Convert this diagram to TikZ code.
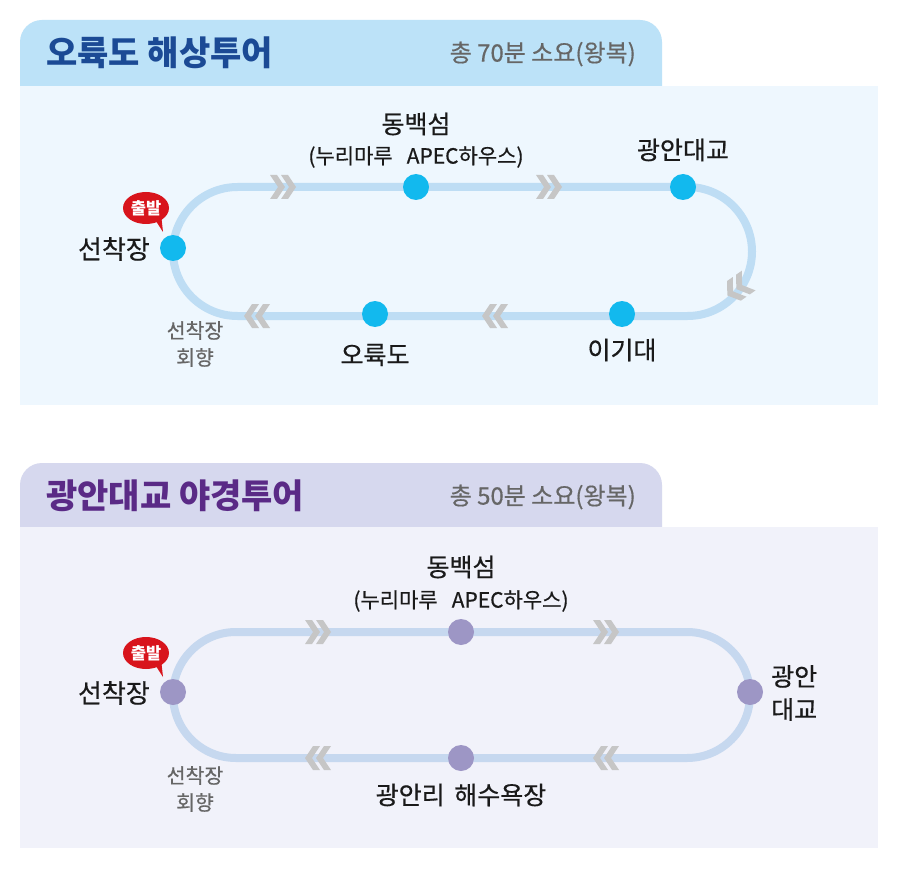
\documentclass[tikz,border=0pt]{standalone}
\usepackage{fontspec}
\newfontfamily\kr{Noto Sans CJK KR}
\newfontfamily\krm[FakeBold=0.5]{Noto Sans CJK KR}
\usetikzlibrary{shapes.geometric}
\definecolor{tabA}{HTML}{BCE2F8}
\definecolor{bodyA}{HTML}{EEF7FE}
\definecolor{titleA}{HTML}{1B4A95}
\definecolor{tabB}{HTML}{D6D8EE}
\definecolor{bodyB}{HTML}{F1F2FA}
\definecolor{titleB}{HTML}{5A2A86}
\definecolor{grayT}{HTML}{666666}
\definecolor{trackA}{HTML}{BEDDF4}
\definecolor{trackB}{HTML}{C6D8EF}
\definecolor{stopA}{HTML}{12B9EE}
\definecolor{stopB}{HTML}{9D96C5}
\definecolor{chev}{HTML}{C6C6C6}
\definecolor{bubble}{HTML}{D8141C}
\definecolor{txt}{HTML}{1A1A1A}
\tikzset{
  stopdot/.style={circle, minimum size=26pt, inner sep=0pt},
  title/.style={font=\kr\bfseries\fontsize{34}{36}\selectfont, inner sep=0pt, anchor=west},
  dur/.style={font=\krm\fontsize{24}{26}\selectfont, text=grayT, inner sep=0pt, anchor=east},
  lbl/.style={font=\krm\fontsize{25}{29}\selectfont, text=txt, inner sep=0pt},
  sublbl/.style={font=\krm\fontsize{21}{23}\selectfont, text=txt, inner sep=0pt},
  ret/.style={font=\krm\fontsize{20.5}{27}\selectfont, text=grayT, inner sep=0pt, align=center},
  track/.style={line width=8pt},
  chevron/.pic={
    \fill[chev] (-13,-12) -- (-6,-12) -- (2,0) -- (-6,12) -- (-13,12) -- (-5,0) -- cycle;
    \fill[chev] (-2,-12) -- (5,-12) -- (13,0) -- (5,12) -- (-2,12) -- (6,0) -- cycle;
  },
  startbubble/.pic={
    \fill[bubble] (8,10) -- (17,24) -- (15,6) -- cycle;
    \fill[bubble] (0,0) ellipse [x radius=23, y radius=16];
    \node[font=\kr\bfseries\fontsize{16.5}{18}\selectfont, text=white, inner sep=0pt] at (0,0) {출발};
  }
}
\begin{document}
\begin{tikzpicture}[x=1pt,y=-1pt]
\useasboundingbox (0,0) rectangle (897,869);
\fill[white] (0,0) rectangle (897,869);
% ===== top panel =====
\fill[tabA, rounded corners=22pt] (20,86) -- (20,20) -- (662,20) -- (662,86);
\fill[bodyA] (20,86) rectangle (878,405);
\node[title, text=titleA] (t1) at (46,53) {오륙도 해상투어};
\node[dur] (d1) at (636,54) {총 70분 소요(왕복)};
\draw[track, trackA, rounded corners=64.5pt] (173,187) rectangle (752,316);
\pic at (283,187) {chevron};
\pic at (549,187) {chevron};
\pic[rotate=180] at (257,316) {chevron};
\pic[rotate=180] at (495,316) {chevron};
\pic[rotate=215] at (738,288) {chevron};
\node[stopdot, fill=stopA] (a1) at (173,248) {};
\node[stopdot, fill=stopA] (a2) at (416,187) {};
\node[stopdot, fill=stopA] (a3) at (683,187) {};
\node[stopdot, fill=stopA] (a4) at (622,314) {};
\node[stopdot, fill=stopA] (a5) at (375,314) {};
\pic at (146,208) {startbubble};
\node[lbl, anchor=east, font=\krm\fontsize{26}{29}\selectfont] (la1) at (150,249) {선착장};
\node[lbl] (la2) at (416,124) {동백섬};
\node[sublbl] (la2b) at (416,157) {(누리마루\hspace{14pt}APEC하우스)};
\node[lbl] (la3) at (683,150) {광안대교};
\node[lbl] (la4) at (622,350) {이기대};
\node[lbl] (la5) at (375,355) {오륙도};
\node[ret] (ra) at (195,344) {선착장\\회향};
% ===== bottom panel =====
\fill[tabB, rounded corners=22pt] (20,527) -- (20,463) -- (662,463) -- (662,527);
\fill[bodyB] (20,527) rectangle (878,848);
\node[title, text=titleB] (t2) at (46,496) {광안대교 야경투어};
\node[dur] (d2) at (636,497) {총 50분 소요(왕복)};
\draw[track, trackB, rounded corners=63pt] (173,632) rectangle (750,758);
\pic at (318,632) {chevron};
\pic at (606,632) {chevron};
\pic[rotate=180] at (318,758) {chevron};
\pic[rotate=180] at (606,758) {chevron};
\node[stopdot, fill=stopB] (b1) at (173,692) {};
\node[stopdot, fill=stopB] (b2) at (461,632) {};
\node[stopdot, fill=stopB] (b3) at (750,692) {};
\node[stopdot, fill=stopB] (b4) at (461,758) {};
\pic at (146,653) {startbubble};
\node[lbl, anchor=east, font=\krm\fontsize{26}{29}\selectfont] (lb1) at (150,693) {선착장};
\node[lbl] (lb2) at (461,567) {동백섬};
\node[sublbl] (lb2b) at (461,601) {(누리마루\hspace{14pt}APEC하우스)};
\node[lbl, align=left, anchor=west, font=\krm\fontsize{25}{33}\selectfont] (lb3) at (771,693) {광안\\대교};
\node[lbl] (lb4) at (461,795) {광안리\hspace{4pt} 해수욕장};
\node[ret] (rb) at (195,789) {선착장\\회향};
\end{tikzpicture}
\end{document}
